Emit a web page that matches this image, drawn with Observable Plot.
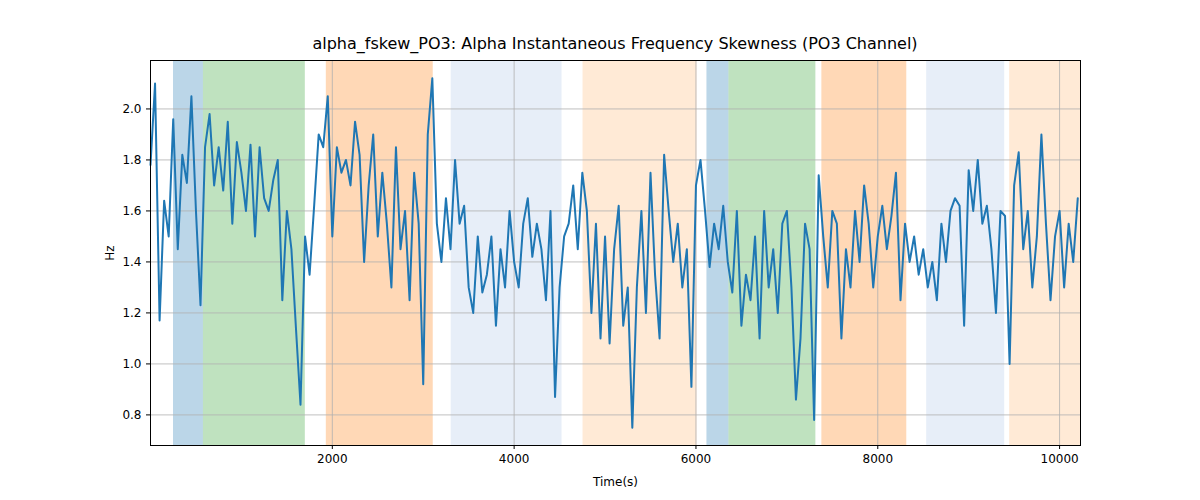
<!DOCTYPE html>
<html><head><meta charset="utf-8">
<script src="https://cdn.jsdelivr.net/npm/d3@7"></script>
<script src="https://cdn.jsdelivr.net/npm/@observablehq/plot@0.6"></script>
<style>
body{margin:0;background:#fff;font-family:"DejaVu Sans",sans-serif;}
#title{position:absolute;left:150px;width:930px;top:34px;text-align:center;font-size:16px;color:#000;}
#chart{position:absolute;left:0;top:40px;}
</style></head><body>
<div id="title">alpha_fskew_PO3: Alpha Instantaneous Frequency Skewness (PO3 Channel)</div>
<div id="chart"></div>
<script>
const step = 50;
const values = [1.78,2.1,1.17,1.64,1.5,1.96,1.45,1.82,1.71,2.05,1.6,1.23,1.85,1.98,1.7,1.85,1.68,1.95,1.55,1.87,
1.75,1.6,1.86,1.5,1.85,1.65,1.6,1.72,1.8,1.25,1.6,1.45,1.14,0.84,1.5,1.35,1.62,1.9,1.85,2.05,
1.5,1.85,1.75,1.8,1.7,1.95,1.82,1.4,1.7,1.9,1.5,1.75,1.55,1.3,1.85,1.45,1.6,1.25,1.75,1.55,
0.92,1.9,2.12,1.55,1.4,1.65,1.45,1.8,1.55,1.62,1.3,1.2,1.5,1.28,1.35,1.5,1.15,1.45,1.3,1.6,
1.4,1.3,1.55,1.65,1.42,1.55,1.45,1.25,1.6,0.87,1.3,1.5,1.55,1.7,1.45,1.75,1.6,1.2,1.55,1.1,
1.5,1.08,1.45,1.62,1.15,1.3,0.75,1.3,1.6,1.2,1.75,1.35,1.1,1.82,1.6,1.4,1.55,1.3,1.45,0.91,
1.7,1.8,1.6,1.38,1.55,1.45,1.62,1.4,1.28,1.6,1.15,1.35,1.25,1.5,1.1,1.6,1.3,1.45,1.2,1.55,
1.6,1.3,0.86,1.1,1.55,1.45,0.78,1.74,1.5,1.3,1.6,1.55,1.1,1.45,1.3,1.6,1.4,1.7,1.55,1.3,
1.5,1.62,1.45,1.58,1.75,1.25,1.55,1.4,1.5,1.35,1.45,1.3,1.4,1.25,1.55,1.4,1.6,1.65,1.62,1.15,
1.76,1.6,1.8,1.55,1.62,1.45,1.2,1.6,1.58,1.0,1.7,1.83,1.45,1.6,1.3,1.5,1.9,1.55,1.25,1.5,
1.6,1.3,1.55,1.4,1.65];
const bandStart = [253,582,1934,3308,4758,6121,6363,7385,8538,9451];
const bandEnd   = [582,1703,3110,4527,6011,6363,7319,8319,9396,10230];
const bandColor = ["#1f77b4","#2ca02c","#ff7f0e","#aec7e8","#ffbb78","#1f77b4","#2ca02c","#ff7f0e","#aec7e8","#ffbb78"];
const bandOpacity = [0.3,0.3,0.3,0.3,0.3,0.3,0.3,0.3,0.3,0.3];
const xTicks = [2000,4000,6000,8000,10000];
const yTicks = [0.8,1.0,1.2,1.4,1.6,1.8,2.0];

const series = values.map((v,i)=>({t:i*step, v}));
const bands = bandStart.map((s,i)=>({s, e:bandEnd[i], c:bandColor[i], o:bandOpacity[i]}));

const chart = Plot.plot({
  width:1200, height:460,
  marginTop:20, marginBottom:55, marginLeft:150, marginRight:120,
  style:{fontFamily:"DejaVu Sans", fontSize:"12px", color:"#000"},
  x:{domain:[0,10230], ticks:xTicks, tickFormat:d=>String(d), label:"Time(s)", labelAnchor:"center", labelArrow:"none", labelOffset:40, grid:false},
  y:{domain:[0.68,2.19], ticks:yTicks, tickFormat:d=>d.toFixed(1), label:"Hz", labelAnchor:"center", labelArrow:"none", labelOffset:45},
  marks:[
    Plot.rectX(bands,{x1:"s",x2:"e",y1:0.68,y2:2.19,fill:"c",fillOpacity:"o"}),
    Plot.gridX(xTicks,{stroke:"#b0b0b0",strokeOpacity:1,strokeWidth:0.8}),
    Plot.gridY(yTicks,{stroke:"#b0b0b0",strokeOpacity:1,strokeWidth:0.8}),
    Plot.line(series,{x:"t",y:"v",stroke:"#1f77b4",strokeWidth:2}),
    Plot.frame({stroke:"#000"}),
    Plot.axisX({ticks:xTicks,tickFormat:d=>String(d),tickSize:4,label:"Time(s)",labelAnchor:"center",labelArrow:"none",labelOffset:40}),
    Plot.axisY({ticks:yTicks,tickFormat:d=>d.toFixed(1),tickSize:4,label:"Hz",labelAnchor:"center",labelArrow:"none",labelOffset:45})
  ]
});
document.getElementById("chart").appendChild(chart);
</script></body></html>
